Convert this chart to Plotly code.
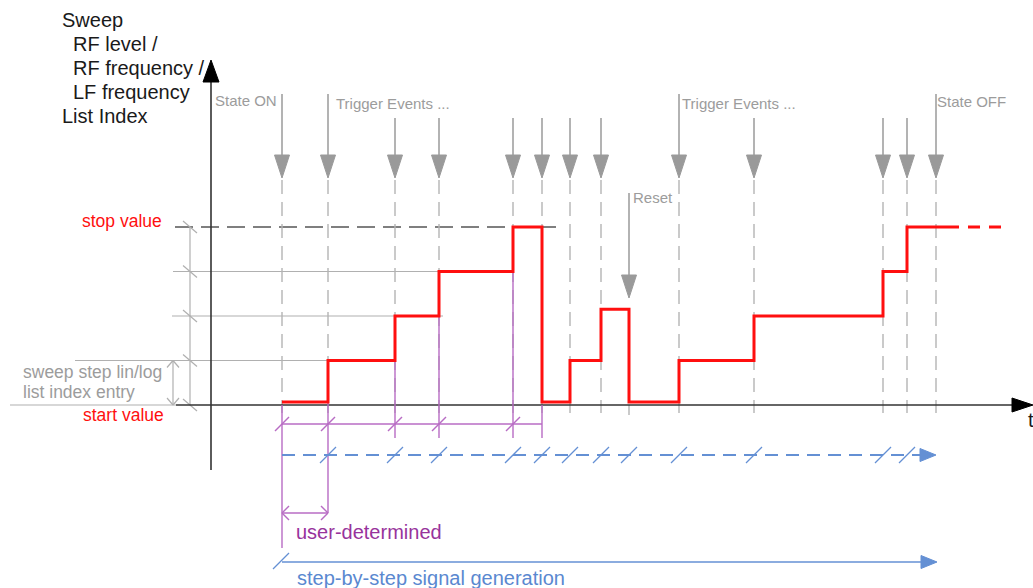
import plotly.graph_objects as go

# --- data (t in px along the time axis, values in step index) ---
STATE_ON_T = 282
STATE_OFF_T = 936
RESET_T = 629
TRIGGER_T = [328, 395, 439, 513, 542, 570, 601, 679, 754, 883, 907]
LONG_ARROW_T = [282, 328, 679, 936]  # arrows that carry a label above them

STEP_T = [282, 328, 395, 439, 513, 542, 570, 601, 629, 679, 754, 883, 907, 947]
STEP_LEVEL = [0, 1, 2, 3, 4, 0, 1, 2.15, 0, 1, 2, 3, 4, 4]
HOLD_T = [947, 1010]  # output keeps going after State OFF

LEVELS = [0, 1, 2, 3, 4]
USER_T = [282, 328, 395, 439, 513, 542]  # user-determined dwell times
USER_TOP = [0, 1, 2, 3, 3.05, 0]

TITLE_LINES = ["Sweep", "RF level /", "RF frequency /", "LF frequency", "List Index"]

# --- geometry / style ---
W, H = 1033, 588
BASE_Y = 405
STEP_PX = 44.5
Y_AXIS_X = 211
RED = "#FF0F0F"
GREY_TXT = "#9C9C9C"
PURPLE = "#B86CC4"
PURPLE_TXT = "#98339C"
BLUE = "#6490D4"
BLUE_TXT = "#5A88D0"
FONT = "Arial, Liberation Sans, sans-serif"


def ly(level, lift=0):
    return BASE_Y - STEP_PX * level - lift


fig = go.Figure()


def lines(segs, color, width, dash="solid"):
    xs, ys = [], []
    for x0, y0, x1, y1 in segs:
        xs += [x0, x1, None]
        ys += [y0, y1, None]
    fig.add_trace(go.Scatter(x=xs, y=ys, mode="lines", hoverinfo="skip",
                             line=dict(color=color, width=width, dash=dash)))


def polys(shapes, color):
    xs, ys = [], []
    for pts in shapes:
        for x, y in pts + [pts[0]]:
            xs.append(x)
            ys.append(y)
        xs.append(None)
        ys.append(None)
    fig.add_trace(go.Scatter(x=xs, y=ys, mode="lines", fill="toself", fillcolor=color,
                             hoverinfo="skip", line=dict(color=color, width=1)))


def down_head(x, y_tip, h=23, w=7.5):
    return [(x - w, y_tip - h), (x + w, y_tip - h), (x, y_tip)]


def right_head(x_tip, y, h=16, w=6.5):
    return [(x_tip - h, y - w), (x_tip - h, y + w), (x_tip, y)]


def slash(x, y, d=7):
    return (x - d, y + d, x + d, y - d)


events = [STATE_ON_T] + TRIGGER_T + [STATE_OFF_T]

# level guide lines and left dimension
lines([(175, ly(4), 556, ly(4))], "#555555", 1.5, "18px,8px")
lines([(173, ly(3), 513, ly(3)), (172, ly(2), 443, ly(2)), (75, ly(1), 328, ly(1)),
       (10, BASE_Y, 176, BASE_Y)], "#B0B0B0", 1.2)
lines([(190, ly(4), 190, BASE_Y)] + [(183, ly(l) - 6, 197, ly(l) + 6) for l in LEVELS],
      "#B0B0B0", 1.2)
lines([(173, ly(1), 173, BASE_Y),
       (167, ly(1) + 7, 173, ly(1)), (173, ly(1), 179, ly(1) + 7),
       (167, BASE_Y - 7, 173, BASE_Y), (173, BASE_Y, 179, BASE_Y - 7)], "#B0B0B0", 1.2)

# dashed event lines and ticks below axis
lines([(t, 180, t, 413) for t in events], "#B4B4B4", 1.4, "14px,8px")
lines([(RESET_T, BASE_Y, RESET_T, 415)], "#B4B4B4", 1.4)

# trigger arrows
long_segs = [(t, 94, t, 160) for t in events if t in LONG_ARROW_T]
short_segs = [(t, 118, t, 160) for t in events if t not in LONG_ARROW_T]
lines(long_segs + short_segs + [(RESET_T, 193, RESET_T, 280)], "#9A9A9A", 1.5)
polys([down_head(t, 178) for t in events] + [down_head(RESET_T, 298)], "#9A9A9A")

# axes
lines([(176, BASE_Y, 1014, BASE_Y), (Y_AXIS_X, 470, Y_AXIS_X, 80)], "#333333", 1.6)
polys([[(1012, BASE_Y - 7), (1012, BASE_Y + 7), (1033, BASE_Y)],
       [(Y_AXIS_X - 8, 82), (Y_AXIS_X + 8, 82), (Y_AXIS_X, 60)]], "#000000")

# purple: user-determined dwell
purple = [(USER_T[0], 424, USER_T[-1], 424)]
for t, top in zip(USER_T, USER_TOP):
    bottom = 438
    if t == USER_T[0]:
        bottom = 548
    elif t == USER_T[1]:
        bottom = 513
    purple.append((t, ly(top), t, bottom))
purple += [slash(t, 424) for t in USER_T[:-1]]
purple += [(USER_T[0], 513, USER_T[1], 513)]
purple += [(USER_T[0] + 7, 506, USER_T[0], 513), (USER_T[0], 513, USER_T[0] + 7, 520),
           (USER_T[1] - 7, 506, USER_T[1], 513), (USER_T[1], 513, USER_T[1] - 7, 520)]
lines(purple, PURPLE, 1.4)

# blue: step-by-step signal generation
lines([(STATE_ON_T, 455, STATE_OFF_T - 14, 455)], BLUE, 2, "13px,8px")
lines([slash(t, 455, 8) for t in TRIGGER_T + [RESET_T]]
      + [(STATE_ON_T, 562, STATE_OFF_T - 14, 562), slash(STATE_ON_T - 1, 561, 8)], BLUE, 1.3)
polys([right_head(STATE_OFF_T, 455), right_head(STATE_OFF_T + 1, 562)], BLUE)

# red sweep output
red_y = [ly(l, 3 if l == 0 else 0) for l in STEP_LEVEL]
fig.add_trace(go.Scatter(x=STEP_T, y=red_y, mode="lines", line_shape="hv", hoverinfo="skip",
                         line=dict(color=RED, width=3)))
fig.add_trace(go.Scatter(x=HOLD_T, y=[ly(STEP_LEVEL[-1])] * 2, mode="lines", hoverinfo="skip",
                         line=dict(color=RED, width=3, dash="12px,9px")))

# texts
ann = []


def text(x, y, s, color, size, anchor="left"):
    ann.append(dict(x=x, y=y, text=s, showarrow=False, xanchor=anchor, yanchor="middle",
                    font=dict(family=FONT, size=size, color=color)))


for i, s in enumerate(TITLE_LINES):
    indent = 0 if i in (0, len(TITLE_LINES) - 1) else 11
    text(60 + indent, 20 + 24 * i, s, "#1A1A1A", 20)
text(164, 221, "stop value", RED, 17.5, "right")
text(166, 415, "start value", RED, 17.5, "right")
text(21, 372, "sweep step lin/log", GREY_TXT, 17.5)
text(21, 392, "list index entry", GREY_TXT, 17.5)
text(213, 100, "State ON", GREY_TXT, 15)
text(334, 103, "Trigger Events ...", GREY_TXT, 15)
text(680, 103, "Trigger Events ...", GREY_TXT, 15)
text(631, 197, "Reset", GREY_TXT, 15)
text(935, 101, "State OFF", GREY_TXT, 15)
text(1026, 420, "t", "#1A1A1A", 20)
text(294, 532, "user-determined", PURPLE_TXT, 20)
text(295, 578, "step-by-step signal generation", BLUE_TXT, 20)

fig.update_layout(
    width=W, height=H, showlegend=False, annotations=ann,
    margin=dict(l=0, r=0, t=0, b=0),
    paper_bgcolor="white", plot_bgcolor="white",
    xaxis=dict(range=[0, W], visible=False, fixedrange=True),
    yaxis=dict(range=[H, 0], visible=False, fixedrange=True),
)
# the page body has an 8px default margin; drop it so the diagram fills the window
fig.write_html("out.html", config={"displayModeBar": False},
               post_script="document.body.style.margin='0';")
